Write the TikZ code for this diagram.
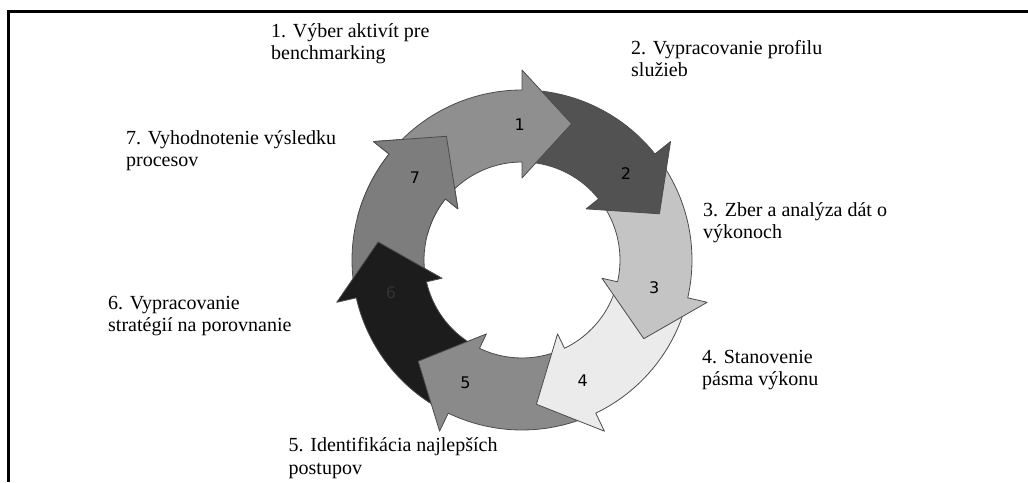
\documentclass[tikz,border=0pt]{standalone}
\usepackage{fontspec}
\setmainfont{Liberation Serif}
\newfontfamily\ziffer{DejaVu Sans}
\usepackage{tikz}
\usepackage{xcolor}
\definecolor{grau_eins}{HTML}{8F8F8F}
\definecolor{grau_zwei}{HTML}{525252}
\definecolor{grau_drei}{HTML}{C4C4C4}
\definecolor{grau_vier}{HTML}{EBEBEB}
\definecolor{grau_fuenf}{HTML}{8A8A8A}
\definecolor{grau_sechs}{HTML}{1C1C1C}
\definecolor{grau_sieben}{HTML}{7D7D7D}
\tikzstyle{ring} = [draw=black!70, line width=0.8pt, line join=round]
\tikzstyle{schritt} = [align=left, anchor=base west, inner sep=0pt, font=\fontsize{20}{22.5}\selectfont]
\tikzstyle{nummer} = [inner sep=0pt, font=\ziffer\fontsize{16}{16}\selectfont]

% #1 Anfang, #2 Pfeilbasis, #3 Farbe
\newcommand{\pfeil}[3]{%
  \filldraw[ring, fill=#3] (#1:170) arc[start angle=#1, end angle=#2, radius=170]
    -- (#2:190) -- ({#2-20}:145) -- (#2:82) -- (#2:98)
    arc[start angle=#2, end angle=#1, radius=98] -- cycle;}

\begin{document}
\begin{tikzpicture}[x=1pt,y=1pt]
  \useasboundingbox (0,0) rectangle (1028,482);
  \draw[line width=3pt] (1028,470.5) -- (8,470.5) -- (8,0);

  \begin{scope}[shift={(522,222)}]
    \pfeil{-173.14}{-218.57}{grau_sieben}
    \pfeil{-121.71}{-167.14}{grau_sechs}
    \pfeil{-70.29}{-115.71}{grau_fuenf}
    \pfeil{-18.86}{-64.29}{grau_vier}
    \pfeil{32.57}{-12.86}{grau_drei}
    \pfeil{84}{38.57}{grau_zwei}
    \pfeil{135.43}{90}{grau_eins}
    % Spitze von 7 liegt ueber 1
    \begin{scope}
      \clip (0,0) -- (-195:260) arc[start angle=-195, end angle=-250, radius=260] -- cycle;
      \pfeil{-173.14}{-218.57}{grau_sieben}
    \end{scope}

    \node[nummer] (Z_eins) at (91:135) {1};
    \node[nummer] (Z_zwei) at (39.57:135) {2};
    \node[nummer] (Z_drei) at (-11.86:135) {3};
    \node[nummer] (Z_vier) at (-63.29:135) {4};
    \node[nummer] (Z_fuenf) at (-114.71:135) {5};
    \node[nummer, text=black!80] (Z_sechs) at (-166.14:135) {6};
    \node[nummer] (Z_sieben) at (-217.57:135) {7};
  \end{scope}

  \node[schritt] (S_eins) at (271,422) {1. Výber aktivít pre\\benchmarking};
  \node[schritt] (S_zwei) at (631,405) {2. Vypracovanie profilu\\služieb};
  \node[schritt] (S_drei) at (703,243) {3. Zber a analýza dát o\\výkonoch};
  \node[schritt] (S_vier) at (702,96) {4. Stanovenie\\pásma výkonu};
  \node[schritt] (S_fuenf) at (288.5,8) {5. Identifikácia najlepších\\postupov};
  \node[schritt] (S_sechs) at (108,150) {6. Vypracovanie\\stratégií na porovnanie};
  \node[schritt] (S_sieben) at (126,315) {7. Vyhodnotenie výsledku\\procesov};
\end{tikzpicture}
\end{document}
